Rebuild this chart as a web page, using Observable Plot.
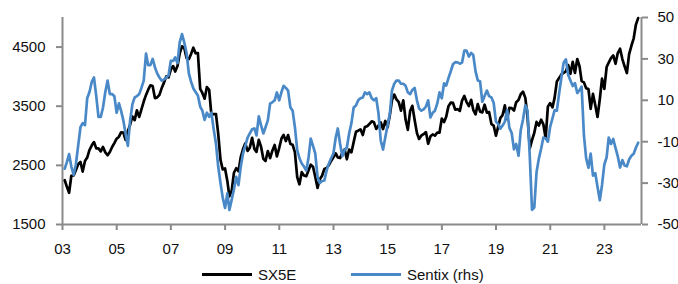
<!DOCTYPE html>
<html><head><meta charset="utf-8">
<script src="https://cdn.jsdelivr.net/npm/d3@7"></script>
<script src="https://cdn.jsdelivr.net/npm/@observablehq/plot@0.6"></script>
<style>
body{margin:0;background:#fff;font-family:"Liberation Sans",Arial,sans-serif;}
#wrap{position:relative;width:678px;height:284px;overflow:hidden}
.item{position:absolute;top:263px;height:22px;display:flex;align-items:center;font-size:15px;color:#111;white-space:nowrap}
.sw{display:inline-block;width:50px;height:3px;margin-right:6px}
</style></head><body>
<div id="wrap"><div id="chart"></div>
<div class="item" style="left:202px"><span class="sw" style="background:#000"></span>SX5E</div>
<div class="item" style="left:351px"><span class="sw" style="background:#4a89c8"></span>Sentix (rhs)</div>
</div>
<script>
// Monthly values, Jan 2003 .. Mar 2024 (month-end)
const startYear = 2003;
const sx5e = [
2248,2141,2036,2324,2330,2419,2519,2556,2395,2575,2631,2760,
2839,2894,2787,2788,2736,2811,2720,2671,2726,2811,2876,2951,
2985,3058,3056,2930,3077,3182,3327,3264,3429,3320,3447,3579,
3691,3775,3854,3840,3637,3649,3692,3809,3899,4005,3988,4120,
4179,4087,4181,4392,4513,4490,4316,4295,4382,4490,4395,4400,
3793,3725,3628,3825,3778,3353,3368,3366,3038,2592,2430,2448,
2237,1976,2071,2375,2451,2401,2639,2776,2873,2743,2798,2966,
2776,2728,2931,2817,2610,2574,2742,2622,2748,2844,2650,2793,
2954,3013,2911,3011,2862,2849,2719,2302,2180,2385,2330,2317,
2417,2512,2477,2306,2118,2265,2325,2440,2455,2503,2575,2636,
2703,2633,2624,2712,2770,2603,2768,2721,2893,3068,3086,3109,
3013,3149,3162,3198,3244,3228,3116,3172,3226,3114,3251,3146,
3351,3599,3697,3615,3570,3424,3600,3270,3101,3418,3506,3268,
3045,2946,3005,3028,3063,2865,2991,3023,3002,3055,3052,3291,
3231,3320,3501,3560,3555,3442,3450,3421,3595,3674,3570,3504,
3609,3439,3362,3536,3407,3396,3525,3393,3399,3198,3173,3001,
3159,3298,3352,3514,3280,3474,3467,3427,3569,3604,3703,3745,
3641,3329,2787,2928,3051,3234,3174,3273,3194,2959,3493,3553,
3481,3636,3919,3975,4039,4064,4089,4196,4048,4251,4063,4298,
4174,3924,3903,3803,3789,3455,3708,3517,3318,3618,3965,3794,
4163,4238,4315,4359,4218,4399,4471,4297,4175,4061,4382,4522,
4648,4878,4990];
const sentix = [
-23,-20,-16,-22,-26,-21,-12,-3,-1,-2,11,14,
19,21,12,2,2,6.5,14,19.5,13,13,12,4,
8.5,5,0.3,-6,-12,0,8,11.4,12,13,16,19.5,
32.6,27,27,30,26,23,21,19.5,20,21,22,29,
29,30.7,28,38,42,38,33,23,19,15.7,14,12.3,
7,5,0.5,4,2,4,-4,-11,-22,-30,-37,-42,
-35,-43,-38,-33,-27,-31,-22,-15.7,-12,-8,-6,-4,
-3.6,-7,2.2,-2,-6,-3,0.3,8.5,9,10,13.8,10,
14,17,16,14.7,6.5,5,-3,-14,-18,-20.5,-22,-24,
-17.6,-8.5,-12,-15.7,-27,-30,-29,-28.7,-24,-20.5,-18,-15.7,
-8,-3.6,-11,-17,-14,-12.8,-6,-1,6.5,7.5,10,11,
11.4,13.8,13,13.8,11,10,11,3.6,-9.4,-13.8,-8,-2,
3.6,14.7,18,19.5,19.5,18,18,17,13.8,13,15,16,
10,6,5,5.6,7,10,1.7,4,5,8.5,13.8,11,
18.2,17.1,20.7,23.9,27.4,28.4,28.3,27.7,28.2,34.0,34.0,31.1,
32.9,31.9,24.0,19.6,19.2,9.3,12.1,14.7,12.0,11.4,8.8,-0.3,
-1.5,-3.7,-2.2,-0.3,5.3,-3.3,-5.8,-13.7,-11.1,-16.8,-4.5,0.7,
7.6,5.2,-17.1,-42.9,-41.8,-24.8,-18.2,-13.4,-8.0,-8.3,-10.0,-2.7,
1.3,5.2,5.0,13.1,21.0,28.1,29.8,22.2,19.6,16.9,18.3,13.5,
14.9,16.6,-7.0,-18.0,-22.6,-15.8,-26.4,-25.2,-31.8,-38.3,-30.9,-21.0,
-17.5,-8.0,-11.1,-8.7,-13.1,-17.0,-22.5,-18.9,-21.5,-21.9,-18.6,-16.8,
-15.8,-12.9,-10.5];
const xTickYears = [2003,2005,2007,2009,2011,2013,2015,2017,2019,2021,2023];
const leftTicks = [1500,2500,3500,4500];
const rightTicks = [-50,-30,-10,10,30,50];
const leftDomain = [1500,5000];
const rightDomain = [-50,50];

const dateOf = i => new Date(startYear, i + 1, 0);
const toLeft = s => leftDomain[0] + (s - rightDomain[0]) / (rightDomain[1] - rightDomain[0]) * (leftDomain[1] - leftDomain[0]);
const fromLeft = v => rightDomain[0] + (v - leftDomain[0]) / (leftDomain[1] - leftDomain[0]) * (rightDomain[1] - rightDomain[0]);

const sxData = sx5e.map((v, i) => ({date: dateOf(i), v}));
const seData = sentix.map((v, i) => ({date: dateOf(i), v: toLeft(v)}));
const xDomain = [new Date(2003,0,1), new Date(2024,4,15)];
const gray = "#8a8a8a";

const chart = Plot.plot({
  width: 678, height: 262,
  marginLeft: 62, marginRight: 37, marginTop: 17, marginBottom: 38,
  style: {fontFamily: "'Liberation Sans', Arial, sans-serif", fontSize: "15px", color: "#111", background: "#fff"},
  x: {type: "time", domain: xDomain},
  y: {domain: leftDomain},
  marks: [
    Plot.axisX({ticks: xTickYears.map(y => new Date(y,0,1)), tickFormat: d3.timeFormat("%y"), tickSize: 6, tickPadding: 13, stroke: gray, strokeWidth: 2, fill: "#111", label: null}),
    Plot.axisY({anchor: "left", ticks: leftTicks, tickFormat: d => String(d), tickSize: 6, tickPadding: 11, stroke: gray, strokeWidth: 2, fill: "#111", label: null}),
    Plot.axisY({anchor: "right", ticks: rightTicks.map(toLeft), tickFormat: d => String(Math.round(fromLeft(d))), tickSize: 6, tickPadding: 10, stroke: gray, strokeWidth: 2, fill: "#111", label: null}),
    Plot.ruleX([xDomain[0], xDomain[1]], {stroke: gray, strokeWidth: 2}),
    Plot.ruleY([leftDomain[0]], {stroke: gray, strokeWidth: 2}),
    Plot.line(sxData, {x: "date", y: "v", stroke: "#000", strokeWidth: 2.7, strokeLinejoin: "round"}),
    Plot.line(seData, {x: "date", y: "v", stroke: "#4a89c8", strokeWidth: 2.7, strokeLinejoin: "round"})
  ]
});
document.getElementById("chart").appendChild(chart);
</script>
</body></html>
